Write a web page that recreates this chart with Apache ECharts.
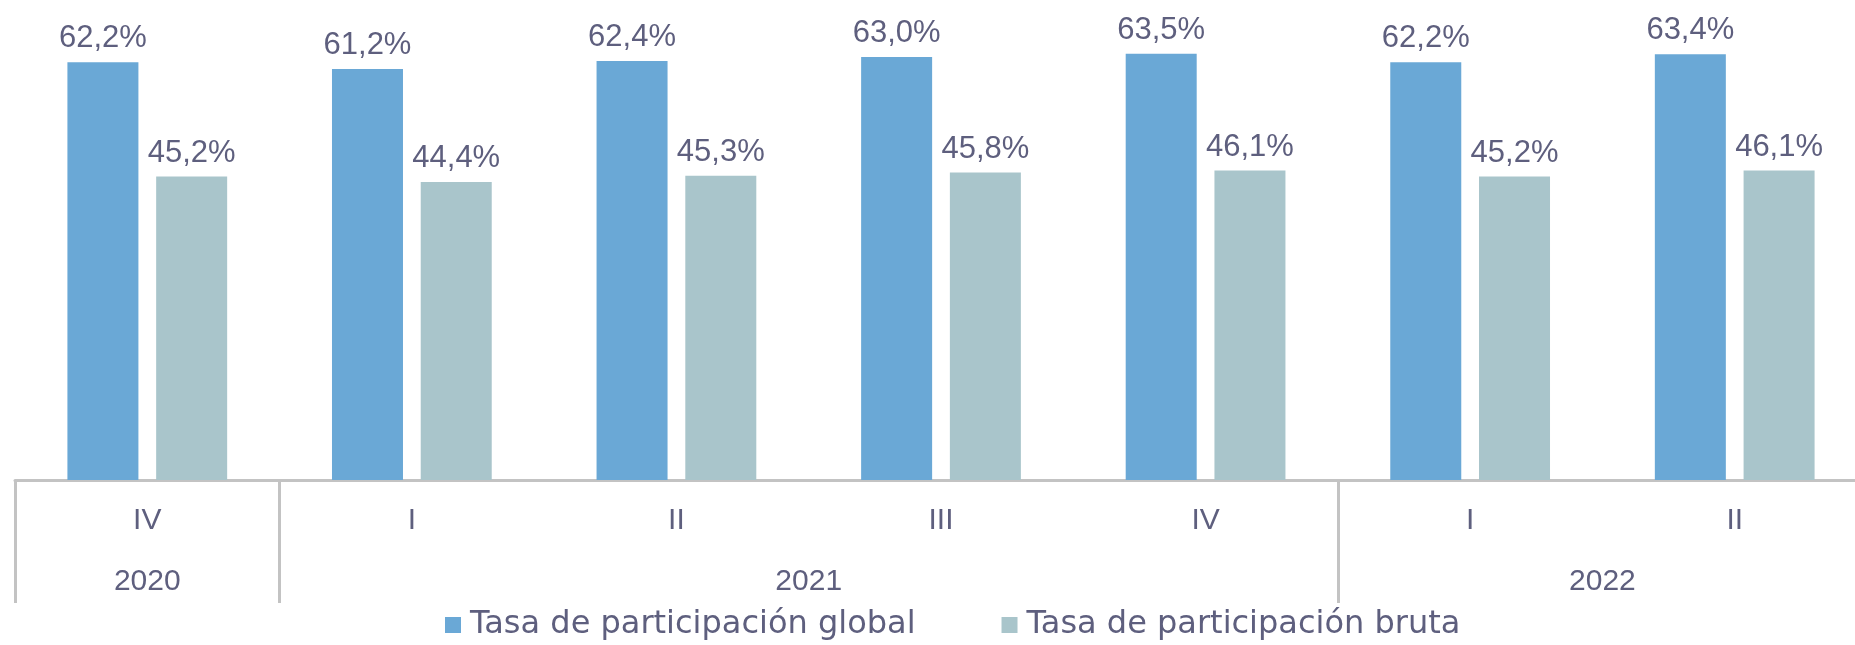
<!DOCTYPE html>
<html>
<head>
<meta charset="utf-8">
<script src="https://cdn.jsdelivr.net/npm/echarts@6/dist/echarts.min.js"></script>
<style>
  html, body { margin: 0; padding: 0; background: #ffffff; overflow: hidden; }
  #chart { width: 1870px; height: 645px; }
</style>
</head>
<body>
<div id="chart"></div>
<script>
// ---- data ----
const quarters = ['IV', 'I', 'II', 'III', 'IV', 'I', 'II'];
const years = ['2020', '2021', '2022'];
const yearSpans = [1, 4, 2];          // number of quarters belonging to each year
const globalRate = [62.2, 61.2, 62.4, 63.0, 63.5, 62.2, 63.4];
const grossRate = [45.2, 44.4, 45.3, 45.8, 46.1, 45.2, 46.1];
const seriesNames = ['Tasa de participación global', 'Tasa de participación bruta'];

// ---- build the year axis on half-band positions ----
const halfSlots = quarters.length * 2 + 1;
const yearAxisData = new Array(halfSlots).fill('');
const separatorIdx = [0];
let start = 0;
years.forEach((y, i) => {
  const end = start + yearSpans[i];
  yearAxisData[start + end] = y;          // center of span in half-band units
  if (end < quarters.length) separatorIdx.push(end * 2);
  start = end;
});

const FONT = '"Liberation Sans", Arial, sans-serif';
const LEGEND_FONT = '"DejaVu Sans", sans-serif';
const TEXT = '#5e5f7e';
const fmt = v => v.toFixed(1).replace('.', ',') + '%';

const chart = echarts.init(document.getElementById('chart'), null, { renderer: 'canvas' });
chart.setOption({
  animation: false,
  backgroundColor: '#ffffff',
  textStyle: { fontFamily: FONT },
  grid: { left: 15, top: 10, right: 0, height: 470, containLabel: false },
  legend: {
    data: seriesNames,
    left: 445,
    top: 609,
    padding: 0,
    itemWidth: 16,
    itemHeight: 16,
    itemGap: 86,
    icon: 'rect',
    textStyle: { fontSize: 32, color: TEXT, fontFamily: LEGEND_FONT, padding: [0, 0, 0, 4] }
  },
  xAxis: [
    {
      type: 'category',
      data: quarters,
      position: 'bottom',
      axisLine: { show: true, lineStyle: { color: '#c3c3c3', width: 3 } },
      axisTick: { show: false },
      axisLabel: { color: TEXT, fontSize: 30, margin: 26, fontFamily: FONT }
    },
    {
      type: 'category',
      data: yearAxisData,
      position: 'bottom',
      boundaryGap: false,
      axisLine: { show: false },
      axisTick: {
        show: true,
        length: 123,
        interval: (idx) => separatorIdx.includes(idx),
        lineStyle: { color: '#c3c3c3', width: 3 }
      },
      axisLabel: {
        color: TEXT, fontSize: 30, margin: 87, fontFamily: FONT,
        interval: 0
      }
    }
  ],
  yAxis: { type: 'value', min: 0, max: 70, show: false, splitLine: { show: false } },
  series: [
    {
      name: seriesNames[0],
      type: 'bar',
      data: globalRate,
      barWidth: 71,
      barGap: '25%',
      itemStyle: { color: '#6aa8d6' },
      label: { show: true, position: 'top', distance: 8, fontSize: 31, color: TEXT, fontFamily: FONT, formatter: p => fmt(p.value) }
    },
    {
      name: seriesNames[1],
      type: 'bar',
      data: grossRate,
      barWidth: 71,
      itemStyle: { color: '#a9c5cb' },
      label: { show: true, position: 'top', distance: 8, fontSize: 31, color: TEXT, fontFamily: FONT, formatter: p => fmt(p.value) }
    }
  ]
});
</script>
</body>
</html>
